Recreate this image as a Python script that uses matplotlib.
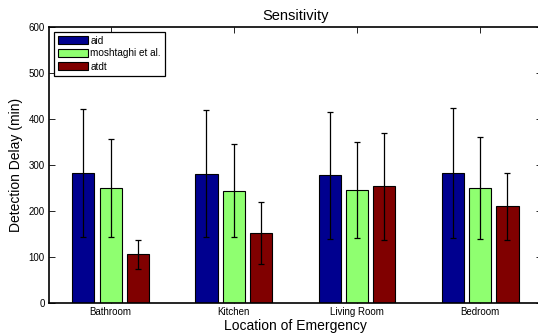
import matplotlib
matplotlib.use('Agg')
import matplotlib.pyplot as plt
import numpy as np

plt.rcParams['font.family'] = ['Liberation Sans', 'DejaVu Sans']

# data
locations = ['Bathroom', 'Kitchen', 'Living Room', 'Bedroom']
series = ['aid', 'moshtaghi et al.', 'atdt']
aid_mean = [283, 281, 278, 282]
aid_err = [139, 138, 138, 141]
mosh_mean = [250, 244, 246, 250]
mosh_err = [107, 101, 104, 110]
atdt_mean = [106, 152, 254, 210]
atdt_err = [32, 68, 116, 73]

means = [aid_mean, mosh_mean, atdt_mean]
errs = [aid_err, mosh_err, atdt_err]
colors = ['#00008F', '#8FFF70', '#800000']

fig = plt.figure(figsize=(5.38, 3.35), dpi=100)
ax = fig.add_axes([49 / 538, 32 / 335, 492.7 / 538, 276 / 335])

x = np.arange(1, len(locations) + 1)
offsets = [-0.222, 0, 0.222]
width = 0.18

for i in range(3):
    ax.bar(x + offsets[i], means[i], width, color=colors[i], edgecolor='black',
           linewidth=0.8, label=series[i], zorder=2)
    ax.errorbar(x + offsets[i], means[i], yerr=errs[i], fmt='none', ecolor='black',
                elinewidth=0.9, capsize=2.3, capthick=0.9, zorder=3)

ax.set_xlim(0.5, 4.5)
ax.set_ylim(0, 600)
ax.set_xticks(x)
ax.set_xticklabels(locations, fontsize=7)
ax.set_yticks(range(0, 601, 100))
ax.tick_params(axis='y', labelsize=7)
ax.tick_params(direction='in', top=True, right=True, length=4, width=0.6, pad=3)

for s in ax.spines.values():
    s.set_linewidth(1.2)

ax.set_title('Sensitivity', fontsize=10.5, pad=5)
ax.set_ylabel('Detection Delay (min)', fontsize=10, labelpad=4)
ax.set_xlabel('Location of Emergency', fontsize=10, labelpad=1)

leg = ax.legend(loc='upper left', fontsize=7.2, fancybox=False, framealpha=1,
                edgecolor='black', borderaxespad=0.45, handlelength=3.0,
                handleheight=0.85, handletextpad=0.27, labelspacing=0.3,
                borderpad=0.4)
leg.get_frame().set_linewidth(0.9)

fig.savefig('out.png', dpi=100)
